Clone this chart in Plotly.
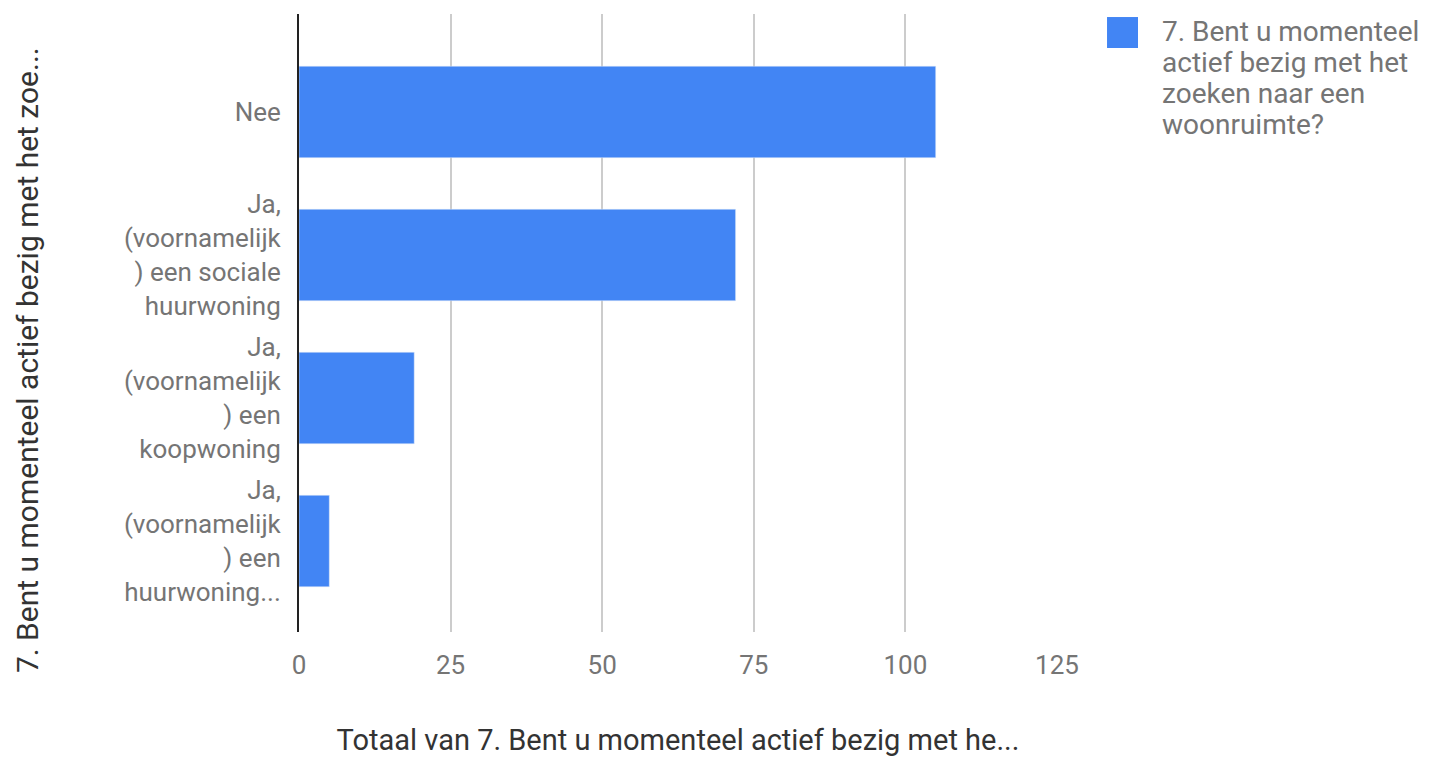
import plotly.graph_objects as go

# Antwoorden op vraag 7
categories = [
    "Nee",
    "Ja,<br>(voornamelijk<br>) een sociale<br>huurwoning",
    "Ja,<br>(voornamelijk<br>) een<br>koopwoning",
    "Ja,<br>(voornamelijk<br>) een<br>huurwoning...",
]
counts = [105, 72, 19, 5]
x_ticks = [0, 25, 50, 75, 100, 125]

legend_lines = ["7. Bent u momenteel", "actief bezig met het",
                "zoeken naar een", "woonruimte?"]
x_title = "Totaal van 7. Bent u momenteel actief bezig met he..."
y_title = "7. Bent u momenteel actief bezig met het zoe..."

blue = "#4285F4"
grey = "#757575"
dark = "#333333"
font = "Roboto"

fig = go.Figure()
fig.add_trace(go.Bar(
    y=categories, x=counts, orientation="h",
    marker_color=blue, width=0.64, showlegend=False,
    name=" ".join(legend_lines),
))

fig.update_layout(
    width=1456, height=760,
    margin=dict(l=291, r=407, t=6, b=136),
    plot_bgcolor="white", paper_bgcolor="white",
    font=dict(family=font, color=grey, size=26),
    showlegend=False,
)
fig.update_xaxes(
    range=[0, 125], tickvals=x_ticks, showgrid=True, gridcolor="#cccccc",
    gridwidth=1.5, zeroline=False, showline=False,
    tickfont=dict(size=26), ticklabelstandoff=15,
    title=dict(text=x_title, font=dict(size=29, color=dark), standoff=50),
)
fig.update_yaxes(
    range=[3.636, -0.685], showline=True, linecolor="#222222", linewidth=2,
    showgrid=False, ticklabelstandoff=11, tickfont=dict(size=26),
)
# y-as titel (iets lager dan het midden, zoals in Google Sheets)
fig.add_annotation(
    text=y_title, textangle=-90, xref="paper", yref="paper",
    x=-0.3588, y=0.44, xanchor="center", yanchor="middle", showarrow=False,
    font=dict(size=30, color=dark),
)

# legenda: blauw vierkantje + tekst per regel
fig.add_shape(type="rect", xref="paper", yref="paper",
              x0=1.066, x1=1.1069, y0=0.945, y1=0.9951,
              fillcolor=blue, line_width=0)
for i, line in enumerate(legend_lines):
    fig.add_annotation(
        text=line, xref="paper", yref="paper", x=1.1359, y=0.9709 - i * 0.0497,
        xanchor="left", yanchor="middle", showarrow=False,
        font=dict(size=28, color=grey),
    )

fig.write_html("out.html")
